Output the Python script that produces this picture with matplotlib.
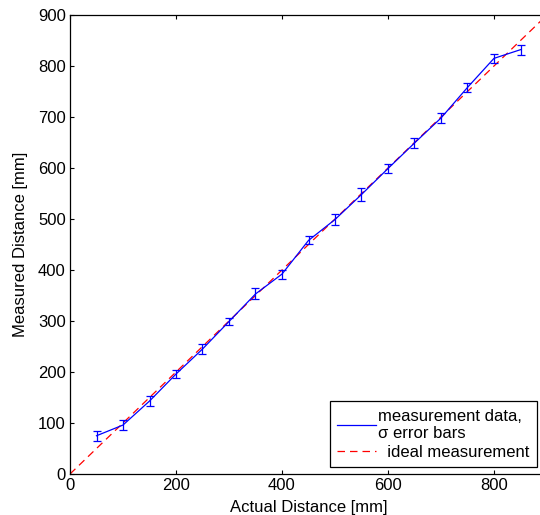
import numpy as np
import matplotlib.pyplot as plt
from matplotlib.lines import Line2D

plt.rcParams['font.family'] = ['Liberation Sans', 'DejaVu Sans']

actual = [50, 100, 150, 200, 250, 300, 350, 400, 450, 500, 550, 600, 650, 700, 750, 800, 850]
measured = [75, 96, 143, 196, 245, 299, 353, 392, 458, 499, 548, 599, 649, 698, 758, 815, 832]
sigma = [10, 9.8, 10.4, 8.5, 10.4, 7.8, 10.8, 8.8, 7.8, 11.4, 12.4, 9.1, 9.4, 10.1, 8.5, 9.4, 9.8]
ideal = [0, 900]

fig = plt.figure(figsize=(5.4, 5.15), dpi=100)
ax = fig.add_axes([70 / 540, 41 / 515, 477 / 540, 459 / 515])

ax.plot(ideal, ideal, '--', color='red', lw=0.9, dashes=(6, 4))
ax.errorbar(actual, measured, yerr=sigma, color='blue', lw=0.9, elinewidth=0.9,
            capsize=2.9, capthick=0.9)

ax.set_xlim(0, 900)
ax.set_ylim(0, 900)
ax.set_xticks([0, 200, 400, 600, 800])
ax.set_yticks(np.arange(0, 901, 100))
ax.tick_params(direction='in', length=3, top=True, right=False, labelsize=12, width=0.8, pad=3)
for s in ax.spines.values():
    s.set_linewidth(0.9)

ax.set_xlabel('Actual Distance [mm]', fontsize=12, labelpad=5)
ax.set_ylabel('Measured Distance [mm]', fontsize=12, labelpad=7)

handles = [Line2D([], [], color='blue', lw=0.9),
           Line2D([], [], color='red', lw=0.9, ls='--', dashes=(6, 4))]
leg = ax.legend(handles, ['measurement data,\n\u03c3 error bars', '  ideal measurement'],
                loc='lower right', bbox_to_anchor=(0.979, 0.015), borderaxespad=0,
                fontsize=12, fancybox=False, framealpha=1, edgecolor='black',
                handlelength=2.3, handletextpad=0.15, borderpad=0.45, labelspacing=0.22)
leg.get_frame().set_linewidth(0.9)

fig.savefig('out.png', dpi=100)
